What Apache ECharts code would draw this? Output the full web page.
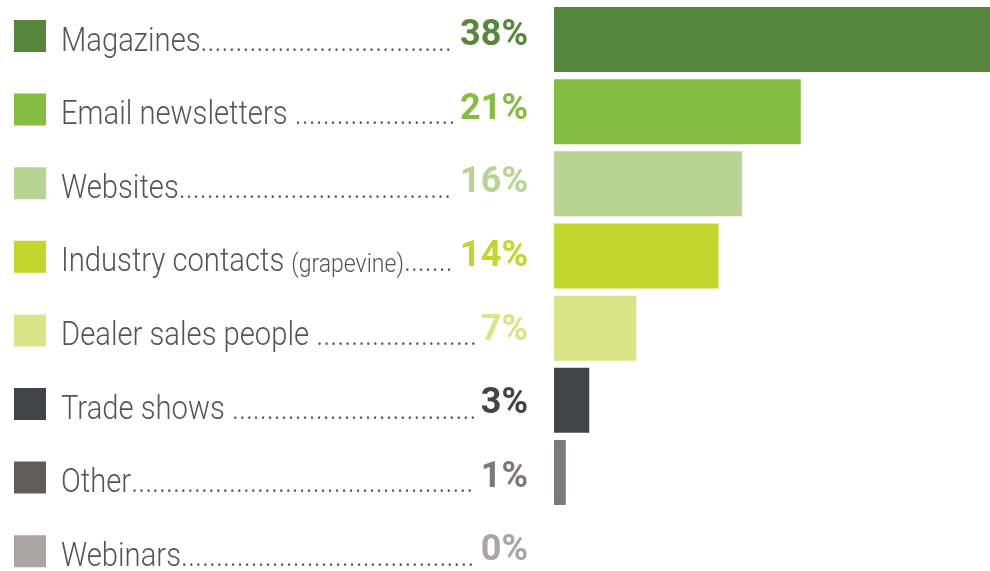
<!DOCTYPE html>
<html>
<head>
<meta charset="utf-8">
<title>Information sources</title>
<script src="https://cdn.jsdelivr.net/npm/echarts@6/dist/echarts.min.js"></script>
<style>
  html, body { margin: 0; padding: 0; background: #ffffff; }
  #chart { width: 990px; height: 571px; }
</style>
</head>
<body>
<div id="chart"></div>
<script>
// Sources, share of respondents (%)
const categories = ['Magazines', 'Email newsletters ', 'Websites', 'Industry contacts ', 'Dealer sales people ', 'Trade shows ', 'Other', 'Webinars'];
const notes = ['', '', '', '(grapevine)', '', '', '', ''];
const values = [38, 21, 16, 14, 7, 3, 1, 0];
const barColors = ['#57873c', '#84bd41', '#b8d492', '#c1d72e', '#d9e487', '#434447', '#7f7a79', '#a9a5a4'];
const swatchColors = ['#57873c', '#84bd41', '#b8d492', '#c1d72e', '#d9e487', '#434447', '#5f5d5a', '#a9a5a4'];

// Text layout for the left-hand legend column
const FAMILY = 'Roboto';
const NAME_SIZE = 33;
const NOTE_SIZE = 26;
const VALUE_SIZE = 36;
const NAME_SX = 0.885;       // horizontal squeeze to mimic a condensed face
const TEXT_X = 61;
const VALUE_RIGHT = 528;
const MID_TO_BASE = 0.29;    // distance from em middle to alphabetic baseline, in em

const measureCtx = document.createElement('canvas').getContext('2d');
function textWidth(str, weight, size) {
  measureCtx.font = weight + ' ' + size + 'px ' + FAMILY;
  return measureCtx.measureText(str).width;
}

function renderRow(params, api) {
  const i = params.dataIndex;
  const cy = api.coord([0, i])[1];
  const nameBase = cy + 16;
  const valueBase = cy + 10.7;

  const nameW = textWidth(categories[i], 300, NAME_SIZE) * NAME_SX;
  const noteW = notes[i] ? textWidth(notes[i], 300, NOTE_SIZE) * NAME_SX : 0;
  const valueText = values[i] + '%';
  const valueW = textWidth(valueText, 700, VALUE_SIZE);
  const periodW = textWidth('.', 300, NAME_SIZE) * NAME_SX;
  const dotsStart = TEXT_X + nameW + noteW;
  const dotsEnd = VALUE_RIGHT - valueW - 3;
  const n = Math.max(0, Math.floor((dotsEnd - dotsStart) / periodW));

  const nameStyle = {
    fontFamily: FAMILY, fontWeight: 300, fontSize: NAME_SIZE,
    fill: '#555557', verticalAlign: 'middle', align: 'left'
  };

  const children = [
    {
      type: 'rect',
      shape: { x: 14, y: cy - 16, width: 32, height: 32 },
      style: { fill: swatchColors[i] }
    },
    {
      type: 'text',
      x: TEXT_X, y: nameBase - MID_TO_BASE * NAME_SIZE,
      scaleX: NAME_SX,
      style: Object.assign({ text: categories[i] }, nameStyle)
    },
    {
      type: 'text',
      x: dotsStart, y: nameBase - MID_TO_BASE * NAME_SIZE,
      scaleX: NAME_SX,
      style: Object.assign({ text: '.'.repeat(n) }, nameStyle)
    },
    {
      type: 'text',
      x: VALUE_RIGHT, y: valueBase - MID_TO_BASE * VALUE_SIZE,
      style: {
        text: valueText, fontFamily: FAMILY, fontWeight: 700, fontSize: VALUE_SIZE,
        fill: barColors[i], align: 'right', verticalAlign: 'middle'
      }
    }
  ];
  if (notes[i]) {
    children.push({
      type: 'text',
      x: TEXT_X + nameW, y: nameBase - MID_TO_BASE * NOTE_SIZE,
      scaleX: NAME_SX,
      style: Object.assign({ text: notes[i] }, nameStyle, { fontSize: NOTE_SIZE })
    });
  }
  return { type: 'group', children: children };
}

const chart = echarts.init(document.getElementById('chart'), null, { renderer: 'canvas' });
chart.setOption({
  animation: false,
  backgroundColor: '#ffffff',
  grid: [
    { left: 554, right: 0, top: 3.42, height: 577.33, outerBoundsMode: 'none', containLabel: false },
    { left: 0, width: 540, top: -0.8, height: 588.8, outerBoundsMode: 'none', containLabel: false }
  ],
  xAxis: [
    { gridIndex: 0, type: 'value', min: 0, max: 37.1, show: false },
    { gridIndex: 1, type: 'value', min: 0, max: 1, show: false }
  ],
  yAxis: [
    { gridIndex: 0, type: 'category', data: categories, inverse: true, show: false },
    { gridIndex: 1, type: 'category', data: categories, inverse: true, show: false }
  ],
  series: [
    {
      type: 'bar',
      xAxisIndex: 0, yAxisIndex: 0,
      barWidth: 65,
      silent: true,
      data: values.map((v, i) => ({ value: v, itemStyle: { color: barColors[i] } }))
    },
    {
      type: 'custom',
      xAxisIndex: 1, yAxisIndex: 1,
      clip: false,
      silent: true,
      data: categories.map((c, i) => [0, i]),
      renderItem: renderRow
    }
  ]
});
</script>
</body>
</html>
